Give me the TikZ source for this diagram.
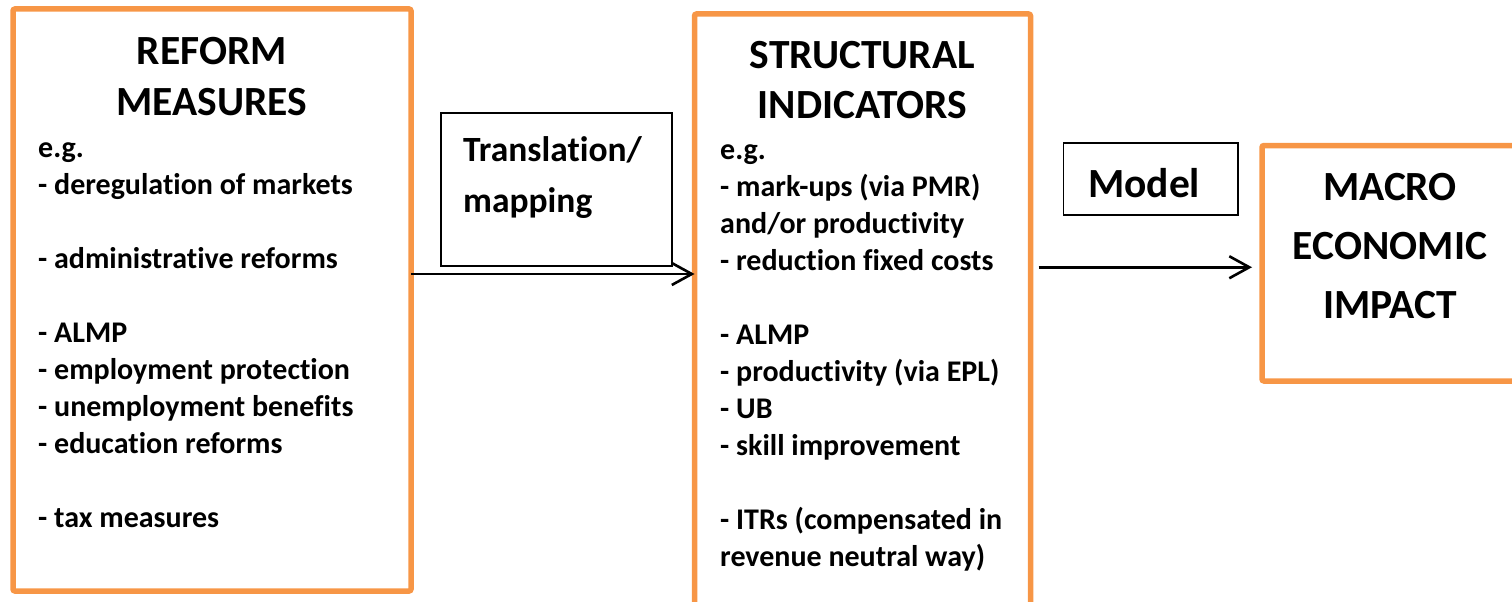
\documentclass[tikz,border=0pt]{standalone}
\usepackage{fontspec}
\setmainfont{Carlito}[Ligatures=NoCommon]
\usetikzlibrary{arrows.meta,calc}
\definecolor{orng}{HTML}{F79646}
\begin{document}
\begin{tikzpicture}[x=1pt,y=-1pt,
  obox/.style={draw=orng,line width=5.5pt,rounded corners=2pt,inner sep=0pt,outer sep=0pt},
  tbox/.style={draw=black,line width=1.2pt,inner sep=0pt,outer sep=0pt},
  head/.style={font=\fontsize{41.5}{50}\selectfont\bfseries,inner sep=0pt,anchor=base},
  body/.style={font=\fontsize{30}{37}\selectfont\bfseries,inner sep=0pt,anchor=base west},
  lbl/.style={font=\fontsize{35.5}{50}\selectfont\bfseries,inner sep=0pt,anchor=base west},
  mlbl/.style={font=\fontsize{41.5}{50}\selectfont\bfseries,inner sep=0pt,anchor=base west},
  arr/.style={line width=2.6pt,-{Straight Barb[length=20pt,width=22pt]}}
]
\useasboundingbox (0,0) rectangle (1512,602);
\clip (0,0) rectangle (1512,602);
% boxes
\node[obox,minimum width=398pt,minimum height=582pt] (reform) at (212,300) {};
\node[obox,minimum width=336pt,minimum height=598pt] (struct) at (862.5,313) {};
\node[obox,minimum width=256pt,minimum height=235.5pt] (macro) at (1390,263.25) {};
\node[tbox,minimum width=231pt,minimum height=153pt] (trans) at (556.5,189.5) {};
\node[tbox,minimum width=174.5pt,minimum height=72pt] (model) at (1150.75,179) {};
% box 1 text
\node[head] (r1) at (212,65) {REFORM};
\node[head] (r2) at (212,115) {MEASURES};
\node[body] (rb0) at (38,157) {e.g.};
\node[body] (rb1) at (38,194) {- deregulation of markets};
\node[body] (rb3) at (38,268) {- administrative reforms};
\node[body] (rb5) at (38,342) {- ALMP};
\node[body] (rb6) at (38,379) {- employment protection};
\node[body] (rb7) at (38,416) {- unemployment benefits};
\node[body] (rb8) at (38,453) {- education reforms};
\node[body] (rb10) at (38,527) {- tax measures};
% box 2 text
\node[head] (s1) at (862.5,68) {STRUCTURAL};
\node[head] (s2) at (862.5,118) {INDICATORS};
\node[body] (sb0) at (720,159) {e.g.};
\node[body] (sb1) at (720,196) {- mark-ups (via PMR)};
\node[body] (sb2) at (720,233) {and/or productivity};
\node[body] (sb3) at (720,270) {- reduction fixed costs};
\node[body] (sb5) at (720,344) {- ALMP};
\node[body] (sb6) at (720,381) {- productivity (via EPL)};
\node[body] (sb7) at (720,418) {- UB};
\node[body] (sb8) at (720,455) {- skill improvement};
\node[body] (sb10) at (720,529) {- ITRs (compensated in};
\node[body] (sb11) at (720,566) {revenue neutral way)};
% box 3 text
\node[head] (m1) at (1390,200) {MACRO};
\node[head] (m2) at (1390,259) {ECONOMIC};
\node[head] (m3) at (1390,318) {IMPACT};
% label boxes text
\node[lbl] (t1) at (463,161) {Translation/};
\node[lbl] (t2) at (463,212) {mapping};
\node[mlbl] (mo) at (1088,197) {Model};
% arrows
\coordinate (a1s) at ($(reform.east)+(0,-26)$);
\draw[arr] (a1s) -- (a1s -| struct.west);
\coordinate (a2s) at ($(struct.east |- macro.west)+(8,4)$);
\coordinate (a2e) at ($(macro.west)+(-10,4)$);
\draw[arr] (a2s) -- (a2e);
\end{tikzpicture}
\end{document}
